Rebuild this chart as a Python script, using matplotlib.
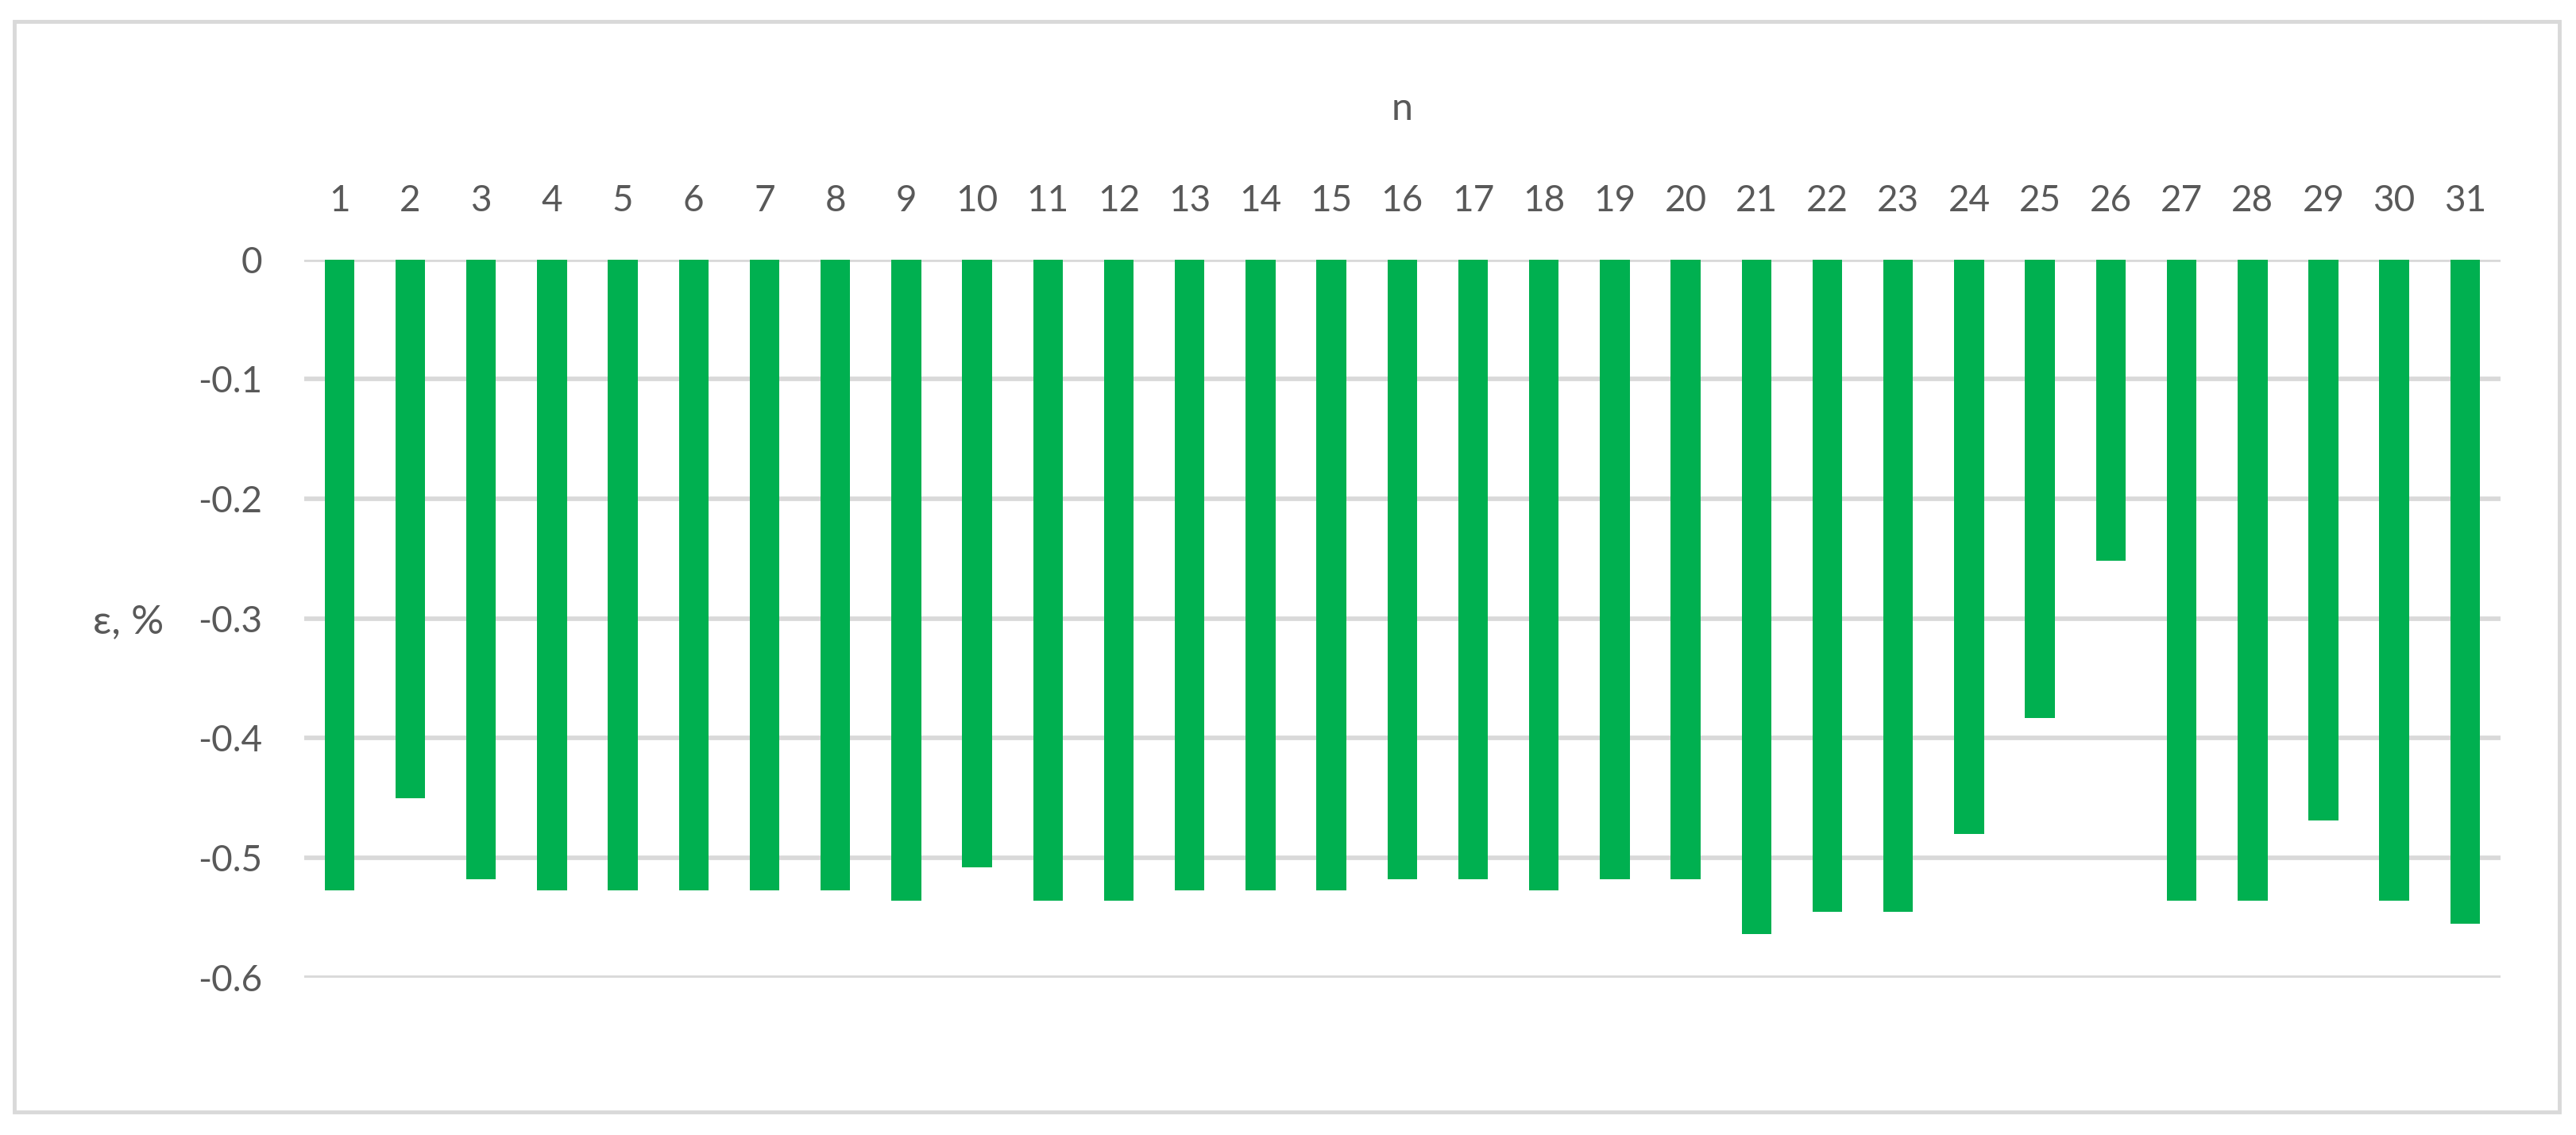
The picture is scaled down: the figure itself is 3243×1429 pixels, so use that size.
import matplotlib
matplotlib.use("Agg")
import matplotlib.pyplot as plt
from matplotlib.patches import Rectangle

n_labels = list(range(1, 32))
eps_values = [-0.527, -0.450, -0.518, -0.527, -0.527, -0.527, -0.527, -0.527,
              -0.536, -0.508, -0.536, -0.536, -0.527, -0.527, -0.527, -0.518,
              -0.518, -0.527, -0.518, -0.518, -0.564, -0.545, -0.545, -0.480,
              -0.383, -0.252, -0.536, -0.536, -0.469, -0.536, -0.555]
y_ticks = [0, -0.1, -0.2, -0.3, -0.4, -0.5, -0.6]
y_tick_labels = ["0", "-0.1", "-0.2", "-0.3", "-0.4", "-0.5", "-0.6"]

W, H = 3243, 1429
fig = plt.figure(figsize=(W / 100, H / 100), dpi=100)
plt.rcParams['font.family'] = ['Lato', 'DejaVu Sans']

# outer chart border
fig.patches.append(Rectangle((18 / W, 1 - 1400 / H), (3222 - 18) / W, (1400 - 27) / H,
                             transform=fig.transFigure, fill=False,
                             edgecolor='#D9D9D9', linewidth=3.5))

ax = fig.add_axes([0.118, 0.1389, 0.9707 - 0.118, 0.7713 - 0.1389])
ax.bar(n_labels, eps_values, width=0.42, color='#00B050', zorder=3)
ax.set_xlim(0.5, 31.5)
ax.set_ylim(-0.6, 0)
ax.set_yticks(y_ticks)
ax.set_yticklabels(y_tick_labels)
ax.set_xticks(n_labels)
ax.set_xticklabels([str(v) for v in n_labels])
ax.xaxis.tick_top()
ax.xaxis.set_label_position('top')
ax.tick_params(axis='both', length=0, labelsize=33, colors='#595959')
ax.tick_params(axis='x', pad=38)
ax.tick_params(axis='y', pad=38)
for s in ax.spines.values():
    s.set_visible(False)
ax.grid(axis='y', color='#D9D9D9', linewidth=4.1, zorder=0)
ax.set_axisbelow(True)
ax.set_xlabel('n', fontsize=35, color='#595959', labelpad=58)
ax.set_ylabel('ε, %', fontsize=37, color='#595959', rotation=0, labelpad=0)
ax.yaxis.set_label_coords(-0.080, 0.47)
ax.yaxis.label.set_horizontalalignment('center')

fig.savefig('out.png', dpi=100, facecolor='white')
